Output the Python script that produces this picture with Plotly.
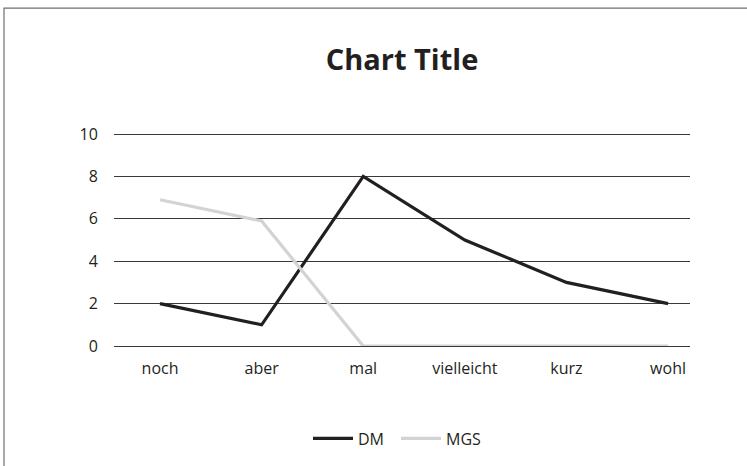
import plotly.graph_objects as go

categories = ["noch", "aber", "mal", "vielleicht", "kurz", "wohl"]
dm_values = [2, 1, 8, 5, 3, 2]
mgs_values = [6.9, 5.9, 0, 0, 0, 0]
y_ticks = [0, 2, 4, 6, 8, 10]

FONT = "Open Sans, Noto Sans, sans-serif"
TXT = "#231f20"

x_idx = list(range(len(categories)))

fig = go.Figure()
fig.add_trace(go.Scatter(x=x_idx, y=dm_values, name="DM", mode="lines",
                         line=dict(color="#231f20", width=3.2)))
fig.add_trace(go.Scatter(x=x_idx, y=mgs_values, name="MGS", mode="lines",
                         line=dict(color="#d1d3d4", width=3.2)))

Y_TOP = 10.05
PX_PER = 212 / 10.0
top_px = 134 - (Y_TOP - 10) * PX_PER

fig.update_layout(
    width=747, height=466,
    margin=dict(l=114, r=57, t=top_px, b=120, autoexpand=False),
    paper_bgcolor="white", plot_bgcolor="white",
    font=dict(family=FONT, color=TXT, size=16),
    title=dict(text="<b>Chart Title</b>", x=0.5, xref="paper", xanchor="center",
               y=1 - 60 / 466, yanchor="middle", yref="container",
               font=dict(size=29, family=FONT, color=TXT)),
    showlegend=True,
    legend=dict(orientation="h", x=0.5 - 6 / 576, xanchor="center", y=-0.434, yanchor="middle",
                font=dict(size=16, family=FONT, color=TXT), itemwidth=40,
                entrywidth=33, entrywidthmode="pixels",
                bgcolor="rgba(0,0,0,0)"),
    xaxis=dict(range=[-0.453, 5.216], tickvals=x_idx, ticktext=categories,
               showgrid=False, zeroline=False, showline=False,
               ticks="outside", ticklen=8, tickcolor="rgba(0,0,0,0)",
               tickfont=dict(size=16, family=FONT, color=TXT), fixedrange=True),
    yaxis=dict(range=[0, Y_TOP], tickvals=y_ticks, showgrid=True, gridcolor="#3a3a3a",
               gridwidth=1, zeroline=True, zerolinecolor="#3a3a3a", zerolinewidth=1,
               showline=False, ticks="outside", ticklen=12, tickcolor="rgba(0,0,0,0)",
               tickfont=dict(size=16, family=FONT, color=TXT), fixedrange=True),
    shapes=[dict(type="rect", xref="paper", yref="paper",
                 x0=(4 - 114) / 576, x1=(760 - 114) / 576,
                 y0=(346 - 480) / 212, y1=(346 - 8) / (346 - top_px),
                 line=dict(color="#6f6f6f", width=1.2), fillcolor="rgba(0,0,0,0)",
                 layer="below")],
)

fig.write_html("out.html", config={"displayModeBar": False},
               post_script="document.body.style.margin='0';document.body.style.padding='0';")
